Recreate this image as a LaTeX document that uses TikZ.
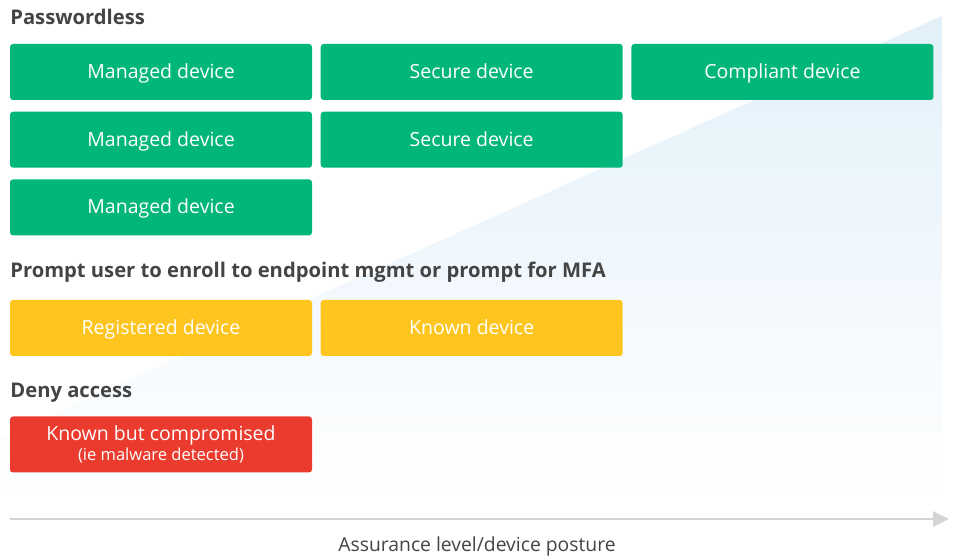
\documentclass[tikz,border=0pt]{standalone}
\usepackage{fontspec}
\setmainfont{Open Sans}
\usetikzlibrary{
  arrows.meta,
  positioning,  % Function "of" (e.g. [right=of x])
}
\definecolor{okgreen}{RGB}{0,182,122}
\definecolor{warnyellow}{RGB}{254,197,30}
\definecolor{denyred}{RGB}{235,58,46}
\definecolor{headgray}{RGB}{68,68,68}
\definecolor{axisgray}{RGB}{212,212,212}
\definecolor{skyblue}{RGB}{226,240,250}
\def\myboxw{6.04cm}
\def\myboxh{1.12cm}
\def\myhgap{0.16cm}
\def\myvgap{0.22cm}
\tikzset{
  font=\fontsize{11}{13}\selectfont,
  my box/.style={
    rectangle,
    rounded corners=0.6mm,
    minimum width=\myboxw,
    minimum height=\myboxh,
    inner sep=0mm,
    text=white,
    align=center,
    font=\fontsize{11.1}{13}\selectfont
  },
  one line/.style={text height=1.6ex,text depth=0.2ex},
  pass box/.style={my box,one line,fill=okgreen},
  prompt box/.style={my box,one line,fill=warnyellow},
  deny box/.style={my box,fill=denyred},
  heading/.style={
    anchor=west,
    inner sep=0mm,
    text=headgray,
    font=\fontsize{11.5}{13}\selectfont\bfseries
  }
}

\begin{document}
\begin{tikzpicture}
\useasboundingbox (0,0) rectangle (19.1,-11.12);
% rising backdrop
\shade[top color=skyblue,bottom color=white]
  (-3,-10.1) -- (18.84,-0.32) -- (18.84,-10.1) -- cycle;
% passwordless
\node[heading]  (pwl) at (0.2,-0.34) {Passwordless};
\node[pass box] (m1)  at (3.22,-1.44)          {Managed device};
\node[pass box] (s1)  [right=\myhgap of m1]    {Secure device};
\node[pass box] (c1)  [right=\myhgap of s1]    {Compliant device};
\node[pass box] (m2)  [below=\myvgap of m1]    {Managed device};
\node[pass box] (s2)  [right=\myhgap of m2]    {Secure device};
\node[pass box] (m3)  [below=\myvgap of m2]    {Managed device};
% enroll or MFA
\node[heading]    (enr) at (0.2,-5.44) {Prompt user to enroll to endpoint mgmt or prompt for MFA};
\node[prompt box] (r1)  at (3.22,-6.56)        {Registered device};
\node[prompt box] (k1)  [right=\myhgap of r1]  {Known device};
% deny
\node[heading]  (dny) at (0.2,-7.86) {Deny access};
\node[deny box] (x1)  at (3.22,-8.89)
  {Known but compromised\\[-0.6mm]{\fontsize{9.4}{11}\selectfont (ie malware detected)}};
% axis
\coordinate (ax0) at (0.2,-10.38);
\coordinate (ax1) at (18.98,-10.38);
\draw[axisgray,line width=1.6pt,-{Triangle[length=3.2mm,width=3mm]}] (ax0) -- (ax1);
\node[text=headgray] (axl) at (9.54,-10.92) {Assurance level/device posture};
\end{tikzpicture}
\end{document}
